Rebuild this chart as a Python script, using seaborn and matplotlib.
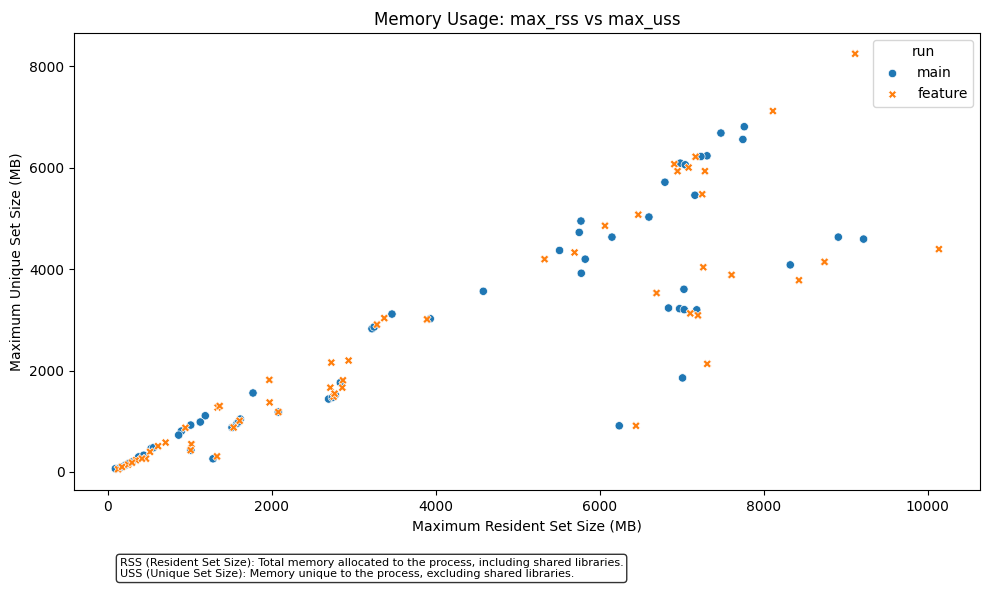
import pandas as pd
import matplotlib.pyplot as plt
import seaborn as sns

# main run (MB)
main_rss = [7765, 7480, 7748, 7310, 7236, 6984, 7045, 6797, 7163, 6602,
            5773, 5752, 6151, 5512, 5825, 5777, 7029, 6841, 6976, 7033,
            7185, 8326, 8912, 9220, 7012, 6240, 4582, 3468, 3224, 3250,
            3935, 2838, 2695, 2777, 2082, 1773, 1618, 1578, 1517, 1191,
            1130, 1013, 899, 866, 529, 1015, 1285, 378, 216, 94, 300,
            160, 260, 440, 560, 1600, 2740]
main_uss = [6811, 6686, 6560, 6237, 6223, 6092, 6059, 5716, 5459, 5029,
            4950, 4726, 4633, 4370, 4198, 3920, 3604, 3234, 3221, 3202,
            3198, 4085, 4633, 4594, 1855, 911, 3564, 3115, 2826, 2860,
            3023, 1762, 1439, 1519, 1182, 1558, 1043, 956, 877, 1109,
            985, 925, 806, 727, 461, 430, 260, 297, 133, 65, 200,
            95, 170, 330, 480, 990, 1470]

# feature run (MB)
feature_rss = [9117, 8114, 7171, 6911, 7086, 6951, 7285, 7252, 6472, 6066,
               5695, 5329, 7265, 7610, 8744, 8432, 10139, 6695, 7106, 7200,
               7313, 6444, 3374, 3285, 3895, 2728, 2939, 2870, 2862, 2716,
               2756, 2768, 1972, 1976, 2082, 1341, 1366, 1610, 1537, 948,
               707, 615, 517, 468, 346, 249, 127, 175, 297, 419,
               1021, 1013, 1334]
feature_uss = [8250, 7120, 6217, 6073, 6005, 5934, 5934, 5479, 5075, 4857,
               4330, 4198, 4039, 3887, 4144, 3782, 4396, 3530, 3128, 3089,
               2132, 911, 3035, 2907, 3010, 2158, 2198, 1808, 1663, 1663,
               1485, 1544, 1816, 1372, 1182, 1273, 1301, 1010, 877, 871,
               580, 509, 396, 263, 232, 145, 53, 99, 184, 263,
               548, 430, 307]

df = pd.concat([
    pd.DataFrame({'max_rss': main_rss, 'max_uss': main_uss, 'run': 'main'}),
    pd.DataFrame({'max_rss': feature_rss, 'max_uss': feature_uss, 'run': 'feature'}),
], ignore_index=True)

fig = plt.figure(figsize=(9.89, 5.89), dpi=100)
ax = sns.scatterplot(data=df, x='max_rss', y='max_uss', hue='run', style='run')

ax.set_title('Memory Usage: max_rss vs max_uss')
ax.set_xlabel('Maximum Resident Set Size (MB)')
ax.set_ylabel('Maximum Unique Set Size (MB)')

note = ('RSS (Resident Set Size): Total memory allocated to the process, including shared libraries.\n'
        'USS (Unique Set Size): Memory unique to the process, excluding shared libraries.')
fig.text(0.121, 0.02, note, fontsize=8,
         bbox=dict(boxstyle='round', facecolor='white', alpha=0.8))

plt.subplots_adjust(left=0.075, right=0.991, top=0.944, bottom=0.168)
plt.savefig('out.png', dpi=100)
